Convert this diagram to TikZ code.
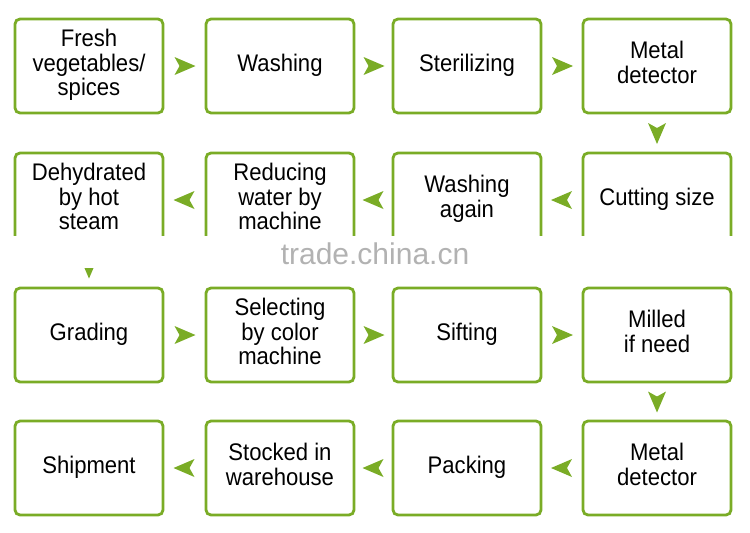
\documentclass[tikz,border=0pt]{standalone}
\usepackage{fontspec}
\setmainfont{Liberation Sans}
\definecolor{gr}{RGB}{122,172,38}
\begin{document}
\begin{tikzpicture}[x=1pt,y=-1pt,
  box/.style={draw=gr,line width=2.8pt,rounded corners=5pt,minimum width=148pt,minimum height=94pt,align=center,font=\fontsize{24}{24}\selectfont,inner sep=1pt},
  chev/.pic={\fill[gr] (11,0) -- (-10,-9) -- (-5,0) -- (-10,9) -- cycle;}]
\useasboundingbox (0,0) rectangle (750,533);
\foreach \n/\x/\y/\t in {
 a1/89/66/{Fresh\\vegetables/\\spices}, a2/280/66/Washing, a3/467/66/Sterilizing, a4/657/66/{Metal\\detector},
 b1/89/200/{Dehydrated\\by hot\\steam}, b2/280/200/{Reducing\\water by\\machine}, b3/467/200/{Washing\\again}, b4/657/200/{Cutting size},
 c1/89/335/Grading, c2/280/335/{Selecting\\by color\\machine}, c3/467/335/Sifting, c4/657/335/{Milled\\if need},
 d1/89/468/Shipment, d2/280/468/{Stocked in\\warehouse}, d3/467/468/Packing, d4/657/468/{Metal\\detector}}
 {\node[box] (\n) at (\x,\y) {\scalebox{0.92}[1]{\begin{tabular}{@{}c@{}}\t\end{tabular}}};}
\foreach \p/\q in {a1/a2,a2/a3,a3/a4,c1/c2,c2/c3,c3/c4}
 \path (\p.east) -- (\q.west) pic[pos=0.5]{chev};
\foreach \p/\q in {b4/b3,b3/b2,b2/b1,d4/d3,d3/d2,d2/d1}
 \path (\p.west) -- (\q.east) pic[pos=0.5,rotate=180]{chev};
\foreach \p/\q in {a4/b4,c4/d4,b1/c1}
 \path (\p.south) -- (\q.north) pic[pos=0.5,rotate=-90]{chev};
\fill[white] (0,236) rectangle (750,268);
\node[text=gray!60,font=\fontsize{30}{30}\selectfont] (wm) at (375,254) {trade.china.cn};
\end{tikzpicture}
\end{document}
